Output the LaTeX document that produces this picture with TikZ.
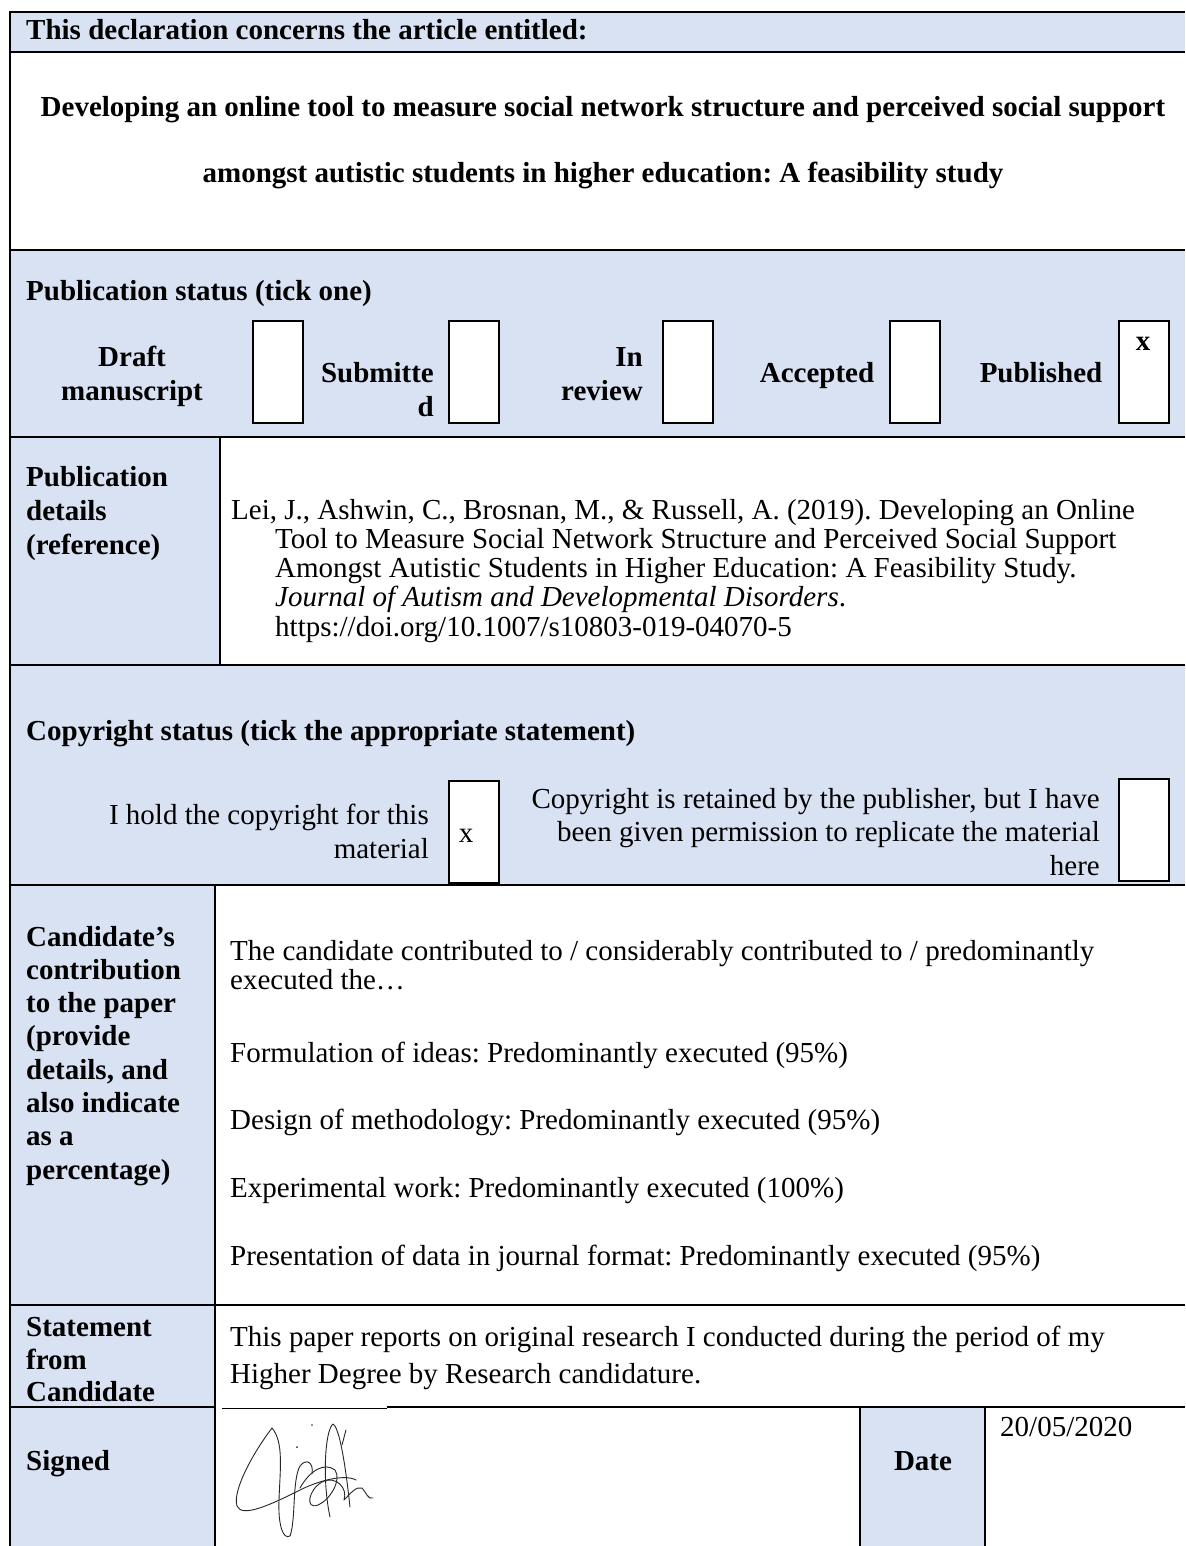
\documentclass[tikz,border=0pt]{standalone}
\usepackage{fontspec}
\setmainfont{Liberation Serif}
\frenchspacing
\definecolor{cellblue}{HTML}{D9E2F3}
\tikzset{
  rulel/.style={line width=2pt},
  bluecell/.style={fill=cellblue, draw=none},
  tickbox/.style={draw, line width=1.8pt, fill=white, inner sep=0pt, anchor=north west},
  lbl/.style={inner sep=0pt, font=\fontsize{29}{33}\selectfont},
  blbl/.style={inner sep=0pt, font=\fontsize{29}{33}\selectfont\bfseries},
  sig/.style={line width=0.9pt, draw=black!85, line cap=round, line join=round},
}
\begin{document}
\begin{tikzpicture}[x=1pt, y=-1pt]
\useasboundingbox (0,0) rectangle (1185,1546);
\fill[white] (0,0) rectangle (1185,1546);

% shaded cells
\fill[bluecell] (10,12) rectangle (1185,52);
\fill[bluecell] (10,250) rectangle (1185,437);
\fill[bluecell] (10,437) rectangle (220,665);
\fill[bluecell] (10,665) rectangle (1185,885);
\fill[bluecell] (10,885) rectangle (215,1546);
\fill[bluecell] (860,1407) rectangle (985,1546);

% table rules
\foreach \yy in {12,52,250,437,665,885,1305}
  \draw[rulel] (9,\yy) -- (1185,\yy);
\draw[rulel] (9,1407) -- (215,1407);
\draw[line width=0.8pt] (222,1408) -- (387,1408);
\draw[rulel] (387,1407) -- (1185,1407);
\draw[rulel] (10,11) -- (10,1546);
\draw[rulel] (220,437) -- (220,665);
\draw[rulel] (215,885) -- (215,1546);
\draw[rulel] (860,1407) -- (860,1546);
\draw[rulel] (985,1407) -- (985,1546);

% article title
\node[blbl, anchor=base west] (hdr) at (26,40) {This declaration concerns the article entitled:};
\node[blbl, anchor=base] (title1) at (603,117) {Developing an online tool to measure social network structure and perceived social support};
\node[blbl, anchor=base] (title2) at (603,183) {amongst autistic students in higher education: A feasibility study};

% publication status
\node[blbl, anchor=base west] (pubhdr) at (26,300) {Publication status (tick one)};
\node[blbl, anchor=base] (draft1) at (132,366) {Draft};
\node[blbl, anchor=base] (draft2) at (132,400) {manuscript};
\node[tickbox, minimum width=50pt, minimum height=102pt] (boxdraft) at (252,320) {};
\node[blbl, anchor=base east] (sub1) at (434,382) {Submitte};
\node[blbl, anchor=base east] (sub2) at (434,416) {d};
\node[tickbox, minimum width=50pt, minimum height=102pt] (boxsub) at (448,320) {};
\node[blbl, anchor=base east] (rev1) at (643,366) {In};
\node[blbl, anchor=base east] (rev2) at (643,400) {review};
\node[tickbox, minimum width=50pt, minimum height=102pt] (boxrev) at (662,320) {};
\node[blbl, anchor=base] (acc) at (817,382) {Accepted};
\node[tickbox, minimum width=50pt, minimum height=102pt] (boxacc) at (889,320) {};
\node[blbl, anchor=base] (pub) at (1041,382) {Published};
\node[tickbox, minimum width=50pt, minimum height=102pt] (boxpub) at (1118,320) {};
\node[blbl, anchor=base] (xpub) at (1143,350) {x};

% publication details
\node[blbl, anchor=base west] (det1) at (26,486) {Publication};
\node[blbl, anchor=base west] (det2) at (26,520) {details};
\node[blbl, anchor=base west] (det3) at (26,554) {(reference)};
\node[lbl, anchor=base west] (ref1) at (231,519) {Lei, J., Ashwin, C., Brosnan, M., \& Russell, A. (2019). Developing an Online};
\node[lbl, anchor=base west] (ref2) at (275,548) {Tool to Measure Social Network Structure and Perceived Social Support};
\node[lbl, anchor=base west] (ref3) at (275,577) {Amongst Autistic Students in Higher Education: A Feasibility Study.};
\node[lbl, anchor=base west] (ref4) at (275,606) {\itshape Journal of Autism and Developmental Disorders\upshape.};
\node[lbl, anchor=base west] (ref5) at (275,636) {https://doi.org/10.1007/s10803-019-04070-5};

% copyright status
\node[blbl, anchor=base west] (cphdr) at (26,740) {Copyright status (tick the appropriate statement)};
\node[lbl, anchor=base east] (own1) at (429,824) {I hold the copyright for this};
\node[lbl, anchor=base east] (own2) at (429,858) {material};
\node[tickbox, minimum width=50pt, minimum height=102pt] (boxown) at (448,780) {};
\node[lbl, anchor=base] (xown) at (466,842) {x};
\node[lbl, anchor=base east] (perm1) at (1100,808) {Copyright is retained by the publisher, but I have};
\node[lbl, anchor=base east] (perm2) at (1100,841) {been given permission to replicate the material};
\node[lbl, anchor=base east] (perm3) at (1100,875) {here};
\node[tickbox, minimum width=50pt, minimum height=102pt] (boxperm) at (1118,778) {};

% candidate's contribution
\foreach \t [count=\i] in {{Candidate’s}, {contribution}, {to the paper}, {(provide}, {details, and}, {also indicate}, {as a}, {percentage)}}
  \node[blbl, anchor=base west] (contrib\i) at (26,{946+33.3*(\i-1)}) {\t};
\node[lbl, anchor=base west] (ct1) at (230,960) {The candidate contributed to / considerably contributed to / predominantly};
\node[lbl, anchor=base west] (ct2) at (230,989) {executed the…};
\node[lbl, anchor=base west] (ct3) at (230,1062) {Formulation of ideas: Predominantly executed (95\%)};
\node[lbl, anchor=base west] (ct4) at (230,1129) {Design of methodology: Predominantly executed (95\%)};
\node[lbl, anchor=base west] (ct5) at (230,1197) {Experimental work: Predominantly executed (100\%)};
\node[lbl, anchor=base west] (ct6) at (230,1265) {Presentation of data in journal format: Predominantly executed (95\%)};

% statement from candidate
\node[blbl, anchor=base west] (st1) at (26,1336) {Statement};
\node[blbl, anchor=base west] (st2) at (26,1369) {from};
\node[blbl, anchor=base west] (st3) at (26,1401) {Candidate};
\node[lbl, anchor=base west] (stt1) at (230,1346) {This paper reports on original research I conducted during the period of my};
\node[lbl, anchor=base west] (stt2) at (230,1383) {Higher Degree by Research candidature.};

% signature and date
\node[blbl, anchor=base west] (signed) at (26,1470) {Signed};
\node[blbl, anchor=base] (datelbl) at (923,1470) {Date};
\node[lbl, anchor=base west] (dateval) at (1000,1436) {20/05/2020};

% handwritten signature
\draw[sig] (272,1428) .. controls (255,1450) and (232,1490) .. (237,1506)
  .. controls (242,1518) and (270,1505) .. (300,1490)
  .. controls (320,1480) and (345,1474) .. (356,1480);
\draw[sig] (272,1428) .. controls (284,1442) and (280,1470) .. (279,1500)
  .. controls (278,1525) and (283,1540) .. (290,1536)
  .. controls (296,1520) and (292,1480) .. (300,1466)
  .. controls (306,1458) and (314,1462) .. (312,1474);
\draw[sig] (330,1517) .. controls (322,1480) and (325,1430) .. (333,1424)
  .. controls (340,1428) and (346,1470) .. (350,1507);
\draw[sig] (300,1488) .. controls (310,1470) and (325,1462) .. (335,1470)
  .. controls (342,1480) and (330,1500) .. (318,1505)
  .. controls (305,1510) and (308,1490) .. (322,1482)
  .. controls (336,1475) and (348,1488) .. (344,1500)
  .. controls (350,1494) and (356,1486) .. (362,1488)
  .. controls (366,1492) and (368,1500) .. (373,1498);
\draw[sig] (346,1430) -- (342,1445);
\fill[black!85] (297,1447) circle (1pt);
\fill[black!85] (312,1425) circle (0.8pt);
\end{tikzpicture}
\end{document}
